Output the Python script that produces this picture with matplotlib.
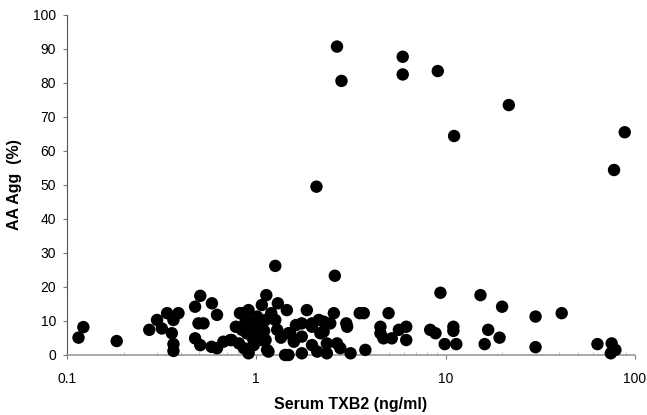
import numpy as np
import matplotlib.pyplot as plt
from matplotlib.ticker import FixedLocator, NullFormatter

plt.rcParams["font.family"] = ["Liberation Sans", "DejaVu Sans"]

# Serum TXB2 (ng/ml) and AA aggregation (%)
txb2 = [
    0.115, 0.122, 0.183,
    0.272, 0.299, 0.317, 0.338, 0.388, 0.365, 0.358, 0.365, 0.365,
    0.475, 0.506, 0.495, 0.526, 0.475, 0.506,
    0.583, 0.62, 0.62, 0.67, 0.73, 0.58, 0.74,
    0.82, 0.857, 0.91, 0.84, 0.89, 0.91, 0.95, 0.97, 0.81, 0.84, 0.93, 0.97, 0.91,
    1.01, 1.07, 1.13, 1.05, 1.12, 1.07, 1.14, 1.03, 1.12, 1.16,
    1.30, 1.26, 1.29, 1.45, 1.51, 1.58, 1.48, 1.42, 1.48, 1.58, 1.26,
    1.85, 1.97, 1.74, 1.97, 2.18, 1.74, 1.97, 1.74, 2.10, 2.14,
    2.60, 2.57, 2.27, 2.46, 2.27, 2.99, 3.02, 3.52, 3.70, 5.00, 4.53, 4.53,
    4.70, 5.20, 5.67, 6.20, 6.20, 3.77, 2.36, 2.36, 2.67, 2.78, 3.15,
    8.3, 8.85, 9.4, 9.9, 11.0, 11.0, 11.4, 15.3, 16.1, 16.8, 19.3, 19.9,
    29.9, 29.9, 41.1, 63.5, 75.5, 79.0, 74.7,
    0.88, 0.95, 1.00, 1.10, 0.78, 1.20, 1.35, 1.62, 0.86,
    2.67, 2.82, 5.94, 5.94, 9.1, 11.1, 2.08, 21.6, 88.5, 77.7,
]
aa_agg = [
    5.1, 8.2, 4.1,
    7.4, 10.3, 7.8, 12.3, 12.3, 10.3, 6.4, 3.2, 1.2,
    14.2, 17.4, 9.3, 9.3, 4.9, 2.9,
    15.2, 11.8, 2.0, 3.9, 4.4, 2.4, 4.4,
    12.3, 12.3, 13.2, 8.3, 6.4, 1.0, 9.3, 3.9, 3.4, 7.4, 6.4, 2.9, 0.5,
    11.3, 14.7, 17.6, 8.3, 10.3, 4.4, 1.5, 8.3, 4.4, 1.0,
    15.2, 10.3, 7.4, 13.2, 6.4, 4.4, 0.0, 0.0, 6.4, 3.9, 26.2,
    13.2, 9.3, 9.3, 8.3, 6.4, 5.4, 2.9, 0.5, 1.0, 10.3,
    23.3, 12.3, 9.8, 9.3, 6.9, 9.3, 8.3, 12.3, 12.3, 12.3, 8.3, 6.4,
    4.9, 4.9, 7.4, 8.3, 4.4, 1.5, 3.4, 0.5, 3.4, 2.0, 0.5,
    7.4, 6.4, 18.3, 3.2, 8.3, 7.1, 3.2, 17.6, 3.2, 7.4, 5.1, 14.2,
    11.3, 2.3, 12.3, 3.2, 3.4, 1.5, 0.5,
    10.3, 5.4, 6.4, 7.1, 8.3, 12.3, 5.1, 8.8, 2.0,
    90.7, 80.6, 87.7, 82.5, 83.5, 64.4, 49.5, 73.5, 65.5, 54.4,
]

fig = plt.figure(figsize=(6.47, 4.15), dpi=100)
ax = fig.add_axes([0.1036, 0.1446, 0.8775, 0.8194])

ax.scatter(txb2, aa_agg, s=80, c="black", edgecolors="none", clip_on=False, zorder=3)

ax.set_xscale("log")
ax.set_xlim(0.1, 100)
ax.set_ylim(0, 100)
ax.set_yticks(np.arange(0, 101, 10))
ax.set_xticks([0.1, 1, 10, 100])
ax.set_xticklabels(["0.1", "1", "10", "100"])
ax.xaxis.set_minor_locator(FixedLocator(
    [m * d for d in (0.1, 1, 10) for m in range(2, 10)]))
ax.xaxis.set_minor_formatter(NullFormatter())

for side in ("top", "right"):
    ax.spines[side].set_visible(False)
ax.spines["left"].set_color("#555555")
ax.spines["bottom"].set_color("#999999")
ax.spines["left"].set_linewidth(0.8)
ax.spines["bottom"].set_linewidth(1.2)

ax.tick_params(axis="both", which="major", direction="out", length=3,
               width=0.8, color="#777777", labelsize=10)
ax.tick_params(axis="x", which="major", pad=9)
ax.tick_params(axis="y", which="major", pad=5)
ax.tick_params(axis="x", which="minor", direction="in", length=2,
               width=0.6, color="#bbbbbb")

ax.set_ylabel("AA Agg  (%)", fontsize=11.5, fontweight="bold", labelpad=8)
ax.set_xlabel("Serum TXB2 (ng/ml)", fontsize=11.5, fontweight="bold", labelpad=8)

plt.savefig("out.png", dpi=100)
plt.close()
